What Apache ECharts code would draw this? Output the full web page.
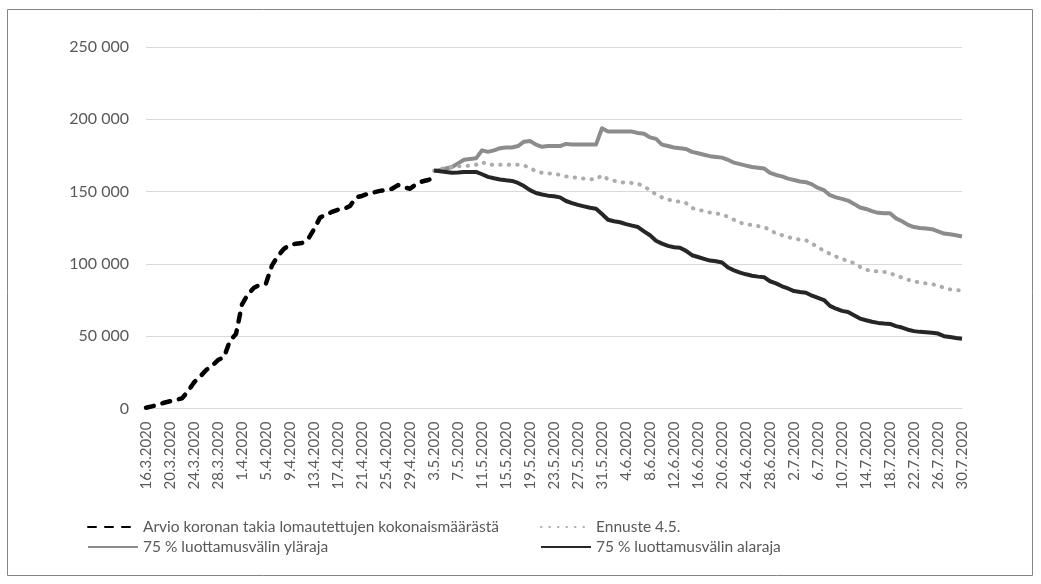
<!DOCTYPE html>
<html>
<head>
<meta charset="utf-8">
<script src="https://cdn.jsdelivr.net/npm/echarts@6/dist/echarts.min.js"></script>
<style>
html,body{margin:0;padding:0;background:#fff;}
#chart{width:1041px;height:584px;}
</style>
</head>
<body>
<div id="chart"></div>
<script>
// Categories: daily dates 16.3.2020 – 30.7.2020
const dates = [
'16.3.2020','17.3.2020','18.3.2020','19.3.2020','20.3.2020','21.3.2020','22.3.2020','23.3.2020','24.3.2020','25.3.2020','26.3.2020','27.3.2020','28.3.2020','29.3.2020','30.3.2020','31.3.2020',
'1.4.2020','2.4.2020','3.4.2020','4.4.2020','5.4.2020','6.4.2020','7.4.2020','8.4.2020','9.4.2020','10.4.2020','11.4.2020','12.4.2020','13.4.2020','14.4.2020','15.4.2020','16.4.2020','17.4.2020','18.4.2020','19.4.2020','20.4.2020','21.4.2020','22.4.2020','23.4.2020','24.4.2020','25.4.2020','26.4.2020','27.4.2020','28.4.2020','29.4.2020','30.4.2020',
'1.5.2020','2.5.2020','3.5.2020','4.5.2020','5.5.2020','6.5.2020','7.5.2020','8.5.2020','9.5.2020','10.5.2020','11.5.2020','12.5.2020','13.5.2020','14.5.2020','15.5.2020','16.5.2020','17.5.2020','18.5.2020','19.5.2020','20.5.2020','21.5.2020','22.5.2020','23.5.2020','24.5.2020','25.5.2020','26.5.2020','27.5.2020','28.5.2020','29.5.2020','30.5.2020','31.5.2020',
'1.6.2020','2.6.2020','3.6.2020','4.6.2020','5.6.2020','6.6.2020','7.6.2020','8.6.2020','9.6.2020','10.6.2020','11.6.2020','12.6.2020','13.6.2020','14.6.2020','15.6.2020','16.6.2020','17.6.2020','18.6.2020','19.6.2020','20.6.2020','21.6.2020','22.6.2020','23.6.2020','24.6.2020','25.6.2020','26.6.2020','27.6.2020','28.6.2020','29.6.2020','30.6.2020',
'1.7.2020','2.7.2020','3.7.2020','4.7.2020','5.7.2020','6.7.2020','7.7.2020','8.7.2020','9.7.2020','10.7.2020','11.7.2020','12.7.2020','13.7.2020','14.7.2020','15.7.2020','16.7.2020','17.7.2020','18.7.2020','19.7.2020','20.7.2020','21.7.2020','22.7.2020','23.7.2020','24.7.2020','25.7.2020','26.7.2020','27.7.2020','28.7.2020','29.7.2020','30.7.2020'
];

// Series names
const nameHistory = 'Arvio koronan takia lomautettujen kokonaismäärästä';
const nameForecast = 'Ennuste 4.5.';
const nameUpper = '75 % luottamusvälin yläraja';
const nameLower = '75 % luottamusvälin alaraja';

// Estimate, 16.3.–3.5. (49 values)
const history = [
500, 1500, 2500, 4000, 5000, 6000, 7000, 12000, 18000, 22000,
26500, 29500, 33500, 35500, 47000, 51500, 72000, 79000, 83500, 85500,
86500, 99000, 105500, 110500, 113000, 114000, 114500, 117000, 124000, 132000,
134000, 136000, 137500, 138000, 140000, 146000, 147000, 148500, 149500, 150500,
151000, 152000, 154500, 153000, 152000, 155000, 157000, 158000, 159500
];

// Forecast series, 3.5.–30.7. (89 values each)
const forecast = [
164500, 165500, 166500, 167000, 167500, 167500, 168000, 168500, 170500, 168500,
168500, 168500, 168500, 168500, 168500, 168000, 166500, 164000, 163000, 162500,
162500, 161500, 160500, 160000, 159500, 159000, 158500, 158500, 161300, 158500,
157500, 156500, 156200, 156000, 155500, 153500, 151000, 148000, 146000, 144500,
143500, 143000, 142000, 138700, 137500, 136500, 135500, 134800, 134300, 132500,
130500, 128500, 127500, 126800, 126200, 125500, 123500, 121000, 119800, 118600,
117500, 116800, 116300, 114000, 111500, 109000, 107000, 105000, 103500, 102000,
100500, 98000, 96000, 95000, 94800, 94500, 93500, 92000, 90500, 89000,
88000, 87000, 86500, 86000, 85000, 83500, 82400, 82000, 81500
];
const upper = [
164500, 165000, 166000, 167000, 169500, 172000, 172500, 173000, 178500, 177500,
178500, 180000, 180500, 180500, 181500, 184500, 185000, 182500, 181000, 181500,
181500, 181500, 183000, 182500, 182500, 182500, 182500, 182500, 193800, 191500,
191500, 191500, 191500, 191500, 190500, 190000, 187500, 186500, 182500, 181500,
180500, 180000, 179500, 177500, 176500, 175500, 174500, 174000, 173500, 172000,
170000, 169000, 168000, 167000, 166500, 166000, 163000, 161500, 160500, 159000,
158000, 157000, 156500, 155000, 152500, 151000, 147500, 146000, 145000, 143800,
141500, 139000, 138000, 136500, 135300, 135000, 135000, 131500, 129500, 127000,
125500, 124800, 124500, 124000, 122500, 121000, 120500, 119800, 119000
];
const lower = [
164500, 164000, 163500, 163000, 163200, 163500, 163600, 163600, 162000, 160200,
159200, 158400, 157800, 157400, 156000, 153800, 151000, 149000, 148000, 147200,
146800, 146000, 143500, 142000, 140800, 139800, 138800, 138200, 134500, 130500,
129500, 128800, 127500, 126500, 125500, 122500, 119800, 116000, 114000, 112500,
111500, 111200, 109000, 106000, 104800, 103500, 102300, 101800, 101000, 97500,
95500, 94000, 92800, 91800, 91200, 90800, 88000, 86500, 84500, 83000,
81200, 80500, 80000, 78000, 76500, 75000, 71000, 69000, 67500, 66800,
64500, 62200, 61000, 60000, 59200, 58800, 58500, 57000, 56000, 54500,
53500, 53000, 52700, 52400, 51800, 50000, 49400, 48800, 48300
];

const yTicks = { min: 0, max: 250000, interval: 50000 };

// Build padded data aligned to the category axis
const n = dates.length;
const histData = history.concat(new Array(n - history.length).fill(null));
const pad = new Array(n - forecast.length).fill(null);
const fcData = pad.concat(forecast);
const upData = pad.concat(upper);
const loData = pad.concat(lower);

const FONT = 'Lato';
const TXT = '#595959';

const chart = echarts.init(document.getElementById('chart'), null, { renderer: 'canvas' });

function legendAt(name, left, top) {
  return {
    data: [name], left: left, top: top, orient: 'horizontal',
    itemWidth: 50, itemHeight: 14, itemGap: 0, selectedMode: false, padding: 0,
    itemStyle: { opacity: 0 },
    textStyle: { fontFamily: FONT, fontSize: 15.5, color: TXT, padding: [0, 0, 0, 0] }
  };
}

const option = {
  animation: false,
  backgroundColor: '#ffffff',
  textStyle: { fontFamily: FONT },
  grid: { left: 146, right: 79, top: 47, bottom: 175.5, containLabel: false, outerBoundsMode: 'none' },
  legend: [
    legendAt(nameHistory, 87, 519),
    legendAt(nameForecast, 540, 519),
    legendAt(nameUpper, 87, 539),
    legendAt(nameLower, 540, 539)
  ],
  xAxis: {
    type: 'category', data: dates, boundaryGap: false,
    axisLine: { show: true, lineStyle: { color: '#d9d9d9', width: 1 } },
    axisTick: { show: false },
    axisLabel: { interval: 3, rotate: 90, margin: 13, fontFamily: FONT, fontSize: 15, color: TXT }
  },
  yAxis: {
    type: 'value', min: yTicks.min, max: yTicks.max, interval: yTicks.interval,
    axisLine: { show: false }, axisTick: { show: false },
    splitLine: { lineStyle: { color: '#d9d9d9', width: 1 } },
    axisLabel: {
      margin: 17, fontFamily: FONT, fontSize: 16, color: TXT,
      formatter: v => String(v).replace(/\B(?=(\d{3})+(?!\d))/g, ' ')
    }
  },
  series: [
    { name: nameHistory, type: 'line', data: histData, symbol: 'none', z: 5,
      lineStyle: { color: '#000000', width: 4.5, type: [8, 9], cap: 'round', join: 'round' },
      itemStyle: { color: '#000000' } },
    { name: nameForecast, type: 'line', data: fcData, symbol: 'none', z: 3,
      lineStyle: { color: '#acacac', width: 4, type: [0.5, 8], cap: 'round', join: 'round' },
      itemStyle: { color: '#acacac' } },
    { name: nameUpper, type: 'line', data: upData, symbol: 'none', z: 2,
      lineStyle: { color: '#8c8c8c', width: 4, join: 'round' },
      itemStyle: { color: '#8c8c8c' } },
    { name: nameLower, type: 'line', data: loData, symbol: 'none', z: 4,
      lineStyle: { color: '#262626', width: 4, join: 'round' },
      itemStyle: { color: '#262626' } }
  ],
  graphic: [{
    type: 'rect', silent: true, z: 0,
    shape: { x: 7.5, y: 9.5, width: 1025, height: 566 },
    style: { fill: 'none', stroke: '#858585', lineWidth: 1 }
  }]
};
chart.setOption(option);
</script>
</body>
</html>
